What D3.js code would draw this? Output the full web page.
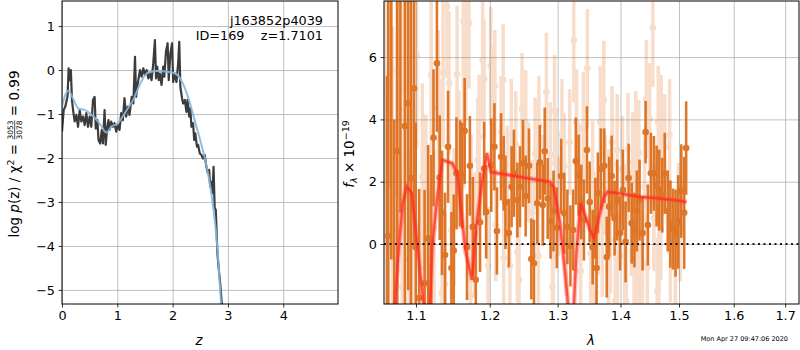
<!DOCTYPE html>
<html>
<head>
<meta charset="utf-8">
<script src="https://cdn.jsdelivr.net/npm/d3@7"></script>
<style>
body { margin: 0; background: #fff; }
svg { display: block; font-family: "DejaVu Sans", sans-serif; }
</style>
</head>
<body>
<div id="chart"></div>
<script>
// p(z) curve (noisy) and smooth prior-ish fit
var pzZ = [0,0.03,0.06,0.1,0.12,0.14,0.16,0.18,0.2,0.23,0.26,0.29,0.32,0.35,0.38,0.41,0.44,0.47,0.5,0.53,0.56,0.59,0.61,0.64,0.66,0.69,0.72,0.74,0.77,0.79,0.82,0.84,0.86,0.89,0.92,0.95,0.98,1.01,1.04,1.07,1.1,1.13,1.16,1.19,1.22,1.26,1.29,1.32,1.34,1.36,1.38,1.41,1.44,1.47,1.5,1.53,1.56,1.59,1.62,1.65,1.68,1.7,1.72,1.75,1.77,1.8,1.83,1.85,1.88,1.91,1.93,1.96,1.99,2.01,2.04,2.07,2.1,2.12,2.14,2.17,2.19,2.22,2.25,2.27,2.3,2.32,2.34,2.37,2.39,2.41,2.44,2.46,2.49,2.52,2.55,2.58,2.61,2.64,2.66,2.68,2.7,2.72,2.74,2.76,2.78,2.81,2.83,2.86,2.89,2.93];
var pzLog = [-1.40,-0.91,-0.83,-0.60,0.04,-0.23,0.0,-0.68,-0.91,-1.17,-1.02,-1.29,-0.91,-1.17,-1.06,-1.25,-0.98,-1.29,-1.06,-1.29,-0.68,-0.61,-1.33,-1.14,-1.59,-1.67,-1.36,-1.67,-0.91,-1.70,-1.29,-1.14,-1.36,-1.17,-1.29,-1.21,-1.40,-1.25,-1.36,-0.98,-1.14,-0.64,-1.06,-0.83,-1.02,-0.61,-0.76,0.30,-0.61,-0.38,-0.23,0.0,-0.15,0.04,-0.11,0.0,-0.19,-0.08,-0.23,0.15,0.68,-0.19,0.08,-0.23,-0.08,-0.34,0.08,-0.15,0.42,0.61,-0.23,0.38,0.61,-0.27,-0.08,-0.27,0.15,0.64,-0.38,-0.64,-0.76,-0.68,-0.95,-0.68,-1.06,-0.87,-1.29,-1.21,-1.59,-1.44,-1.74,-1.70,-1.89,-1.93,-2.01,-1.93,-2.20,-2.35,-2.27,-2.65,-2.54,-2.80,-2.20,-3.14,-3.18,-4.17,-4.47,-4.85,-5.32,-5.6];
var fitZ = [0,0.05,0.12,0.2,0.3,0.4,0.5,0.6,0.7,0.8,0.9,1.0,1.1,1.2,1.3,1.4,1.5,1.6,1.7,1.8,1.9,2.0,2.1,2.2,2.3,2.4,2.5,2.6,2.7,2.8,2.88];
var fitLog = [-0.83,-0.60,-0.47,-0.65,-0.88,-0.90,-0.98,-1.10,-1.25,-1.42,-1.28,-1.22,-1.05,-0.85,-0.65,-0.35,-0.12,-0.04,-0.02,-0.02,-0.04,-0.06,-0.13,-0.35,-0.70,-1.15,-1.60,-2.10,-2.80,-3.90,-5.40];

// spectrum: [lambda, flux, err]
var specMain = [
[1.0630,-2.6,8],[1.0647,0.26,8],[1.0685,8.5,9],[1.0722,-3.0,7],[1.0760,2.98,8],[1.0800,9.0,8],
[1.0858,3.79,7],[1.0900,4.52,6],[1.0935,2.12,6],[1.0974,5.0,5],[1.0996,-0.1,4],[1.1041,-1.73,3.5],
[1.1112,-1.26,3],[1.1159,0.18,3],[1.1199,0.07,2.8],[1.1230,3.41,2.2],[1.1275,5.8,2.2],[1.1312,2.13,2],
[1.1343,1.0,2],[1.1383,-0.35,2],[1.1424,3.12,1.8],[1.1470,-0.77,1.8],[1.1501,-0.21,1.8],[1.1538,2.27,1.8],
[1.1587,2.27,1.7],[1.1615,2.2,1.7],[1.1650,3.63,1.7],[1.1682,-0.1,1.7],[1.1722,2.51,1.6],[1.1763,0.55,1.6],
[1.1804,-1.15,1.6],[1.1863,0.7,1.6],[1.1921,2.42,1.5],[1.1949,1.03,1.5],[1.2022,2.53,1.5],
[1.2066,3.12,1.4],[1.2102,0.42,1.4],[1.2161,2.8,1.4],[1.2199,2.27,1.2],[1.2224,1.34,1.5],[1.2273,0.35,1.1],
[1.2313,1.84,1.3],[1.2347,2.27,1.4],[1.2397,1.41,1.2],[1.2435,1.84,1.3],[1.2479,2.59,1.4],[1.2519,1.54,1.3],
[1.2568,2.51,1.2],[1.2603,-0.48,1.3],[1.2642,-0.62,1.4],[1.2692,1.31,1.3],[1.2730,2.62,1.2],[1.2774,1.25,1.3],
[1.2804,2.98,1.4],[1.2848,1.46,1.3],[1.2892,0.73,1.2],[1.2937,1.06,1.3],[1.2987,0.52,1.3],[1.3054,2.18,1.2],
[1.3102,0.99,1.3],[1.3150,0.55,1.2],[1.3197,-0.06,1.3],[1.3240,0.45,1.3],[1.3282,2.66,1.4],[1.3325,2.21,1.3],
[1.3368,1.35,1.2],[1.3409,0.77,1.3],[1.3457,3.02,1.4],[1.3500,1.35,1.3],[1.3548,-0.1,1.2],[1.3591,0.83,1.3],
[1.3610,-0.77,1.3],[1.3632,1.64,1.3],[1.3680,2.41,1.3],[1.3734,2.51,1.2],[1.3775,-0.42,1.3],[1.3814,1.2,1.6],
[1.3855,2.18,1.3],[1.3903,0.83,1.2],[1.3946,1.41,1.3],[1.3994,0.35,1.2],[1.4039,1.73,1.3],[1.4084,0.07,1.3],
[1.4135,2.12,1.1],[1.4186,0.67,1.3],[1.4232,0.45,1.2],[1.4272,1.06,1.3],[1.4318,1.41,1.3],[1.4369,0.35,1.2],
[1.4421,3.59,1.0],[1.4460,0.61,1.3],[1.4511,2.27,1.3],[1.4562,2.27,1.2],[1.4609,1.86,1.3],[1.4655,1.73,1.3],
[1.4706,1.57,1.2],[1.4750,2.27,1.3],[1.4802,1.06,1.3],[1.4848,0.64,1.4],[1.4894,0.48,1.3],[1.4939,0.35,1.4],
[1.4985,0.71,1.5],[1.5041,1.70,1.5],[1.5092,1.0,1.8],[1.5127,3.08,1.5]
];
var specFaint = [
[1.0620,5.0,5],[1.0660,6.8,5],[1.0700,2.0,5],[1.0754,5.55,4],[1.0790,4.3,4],[1.0823,-1.37,4],
[1.0845,4.94,3.5],[1.0871,5.2,3.5],[1.0910,-0.5,3.5],[1.0950,1.4,3.5],[1.1009,6.06,3],[1.1083,2.15,3],
[1.1128,1.35,2.8],[1.1165,-1.0,2.8],[1.1199,5.42,2.5],[1.1237,0.5,2.5],[1.1295,4.36,2.5],[1.1320,2.9,2.4],
[1.1343,-1.57,2.4],[1.1357,5.5,2.4],[1.1383,-1.28,2.3],[1.1410,7.63,2.3],[1.1437,5.17,2.3],[1.1470,0.45,2.2],
[1.1505,0.87,2.2],[1.1546,5.45,2.2],[1.1569,2.7,2.2],[1.1633,7.15,2.1],[1.1637,3.88,2.1],[1.1668,6.06,2.1],
[1.1709,7.09,2.1],[1.1732,-1.67,2.0],[1.1741,1.51,2.0],[1.1790,0.3,2.0],[1.1832,2.7,2.0],[1.1851,3.43,2.0],
[1.1900,5.9,2.0],[1.1921,5.3,1.9],[1.1976,-0.7,1.9],[1.2013,5.71,1.9],[1.2035,4.49,1.9],[1.2072,5.07,1.8],
[1.2085,0.61,1.8],[1.2161,3.59,1.8],[1.2191,5.26,1.8],[1.2199,-0.45,1.8],[1.2250,2.0,1.8],[1.2288,-0.71,1.8],
[1.2309,3.5,1.8],[1.2372,3.21,1.7],[1.2397,-0.26,1.6],[1.2421,-1.15,1.7],[1.2465,4.33,1.8],[1.2519,3.88,1.7],
[1.2560,2.3,1.6],[1.2620,1.0,1.7],[1.2660,2.9,1.8],[1.2707,-0.38,1.7],[1.2715,3.8,1.6],[1.2780,1.8,1.7],
[1.2829,4.88,1.9],[1.2887,2.86,1.7],[1.2922,-1.38,1.6],[1.2928,-0.42,1.7],[1.2952,4.27,1.8],[1.2966,2.6,1.7],
[1.3010,1.2,1.6],[1.3066,3.5,1.8],[1.3102,2.5,1.7],[1.3134,-0.06,1.6],[1.3186,3.27,1.7],[1.3250,6.54,2.0],
[1.3293,3.91,1.7],[1.3340,2.27,1.6],[1.3357,-0.87,1.7],[1.3400,3.72,1.8],[1.3463,5.64,1.9],[1.3516,-0.3,1.6],
[1.3548,2.25,1.7],[1.3568,-0.83,1.6],[1.3591,-1.57,1.7],[1.3638,0.6,1.6],[1.3670,3.91,1.8],[1.3701,0.0,1.7],
[1.3727,4.62,1.9],[1.3749,1.89,1.6],[1.3806,1.35,1.7],[1.3808,-0.83,1.6],[1.3833,0.13,1.7],[1.3861,3.27,1.8],
[1.3870,2.55,1.6],[1.3914,-1.83,1.7],[1.3946,3.02,1.8],[1.3951,-0.62,1.6],[1.4032,2.41,1.7],[1.4067,-0.38,1.6],
[1.4091,0.87,1.7],[1.4095,-1.83,1.6],[1.4125,3.05,1.8],[1.4181,0.67,1.7],[1.4203,2.63,1.6],[1.4227,-0.89,1.7],
[1.4254,3.11,1.8],[1.4266,-1.51,1.6],[1.4288,-0.73,1.7],[1.4295,2.6,1.6],[1.4306,2.92,1.7],[1.4323,-1.19,1.6],
[1.4369,-0.64,1.7],[1.4403,1.84,1.6],[1.4433,4.65,1.9],[1.4450,-0.75,1.7],[1.4489,4.01,1.8],[1.4545,6.94,1.9],
[1.4562,0.83,1.7],[1.4620,-1.51,1.6],[1.4637,3.91,1.8],[1.4645,-0.35,1.6],[1.4648,0.13,1.7],[1.4682,0.45,1.6],
[1.4689,3.63,1.8],[1.4706,2.57,1.7],[1.4750,3.11,1.7],[1.4835,3.5,1.8],[1.4848,-0.26,1.6],[1.4935,-0.38,1.7],
[1.4990,1.0,1.6],[1.5020,0.5,1.7]
];
var modelLam = [1.0730,1.0790,1.0830,1.0880,1.0945,1.0990,1.1050,1.1098,1.1120,1.1175,1.1215,1.1290,1.1348,1.1480,1.1550,1.1660,1.1750,1.1810,1.1890,1.1960,1.2020,1.2887,1.2937,1.3037,1.3145,1.3180,1.3240,1.3290,1.3357,1.3437,1.3506,1.3570,1.3650,1.3730,1.3784,1.3943,1.4337,1.4622,1.4905,1.5135];
var modelFlux = [-1.93,0.2,1.3,1.84,1.63,0.6,-0.8,-1.9,-2.5,-2.5,0.0,1.7,2.7,2.59,2.27,-0.2,-1.15,0.55,1.95,2.92,2.31,1.99,1.84,0.67,-1.57,-2.5,-2.5,-0.29,1.31,0.87,0.45,0.19,0.87,1.51,1.67,1.64,1.51,1.47,1.41,1.35];

var zTicks = [0,1,2,3,4];
var logTicks = [-5,-4,-3,-2,-1,0,1];
var lamTicks = [1.1,1.2,1.3,1.4,1.5,1.6,1.7];
var fluxTicks = [0,2,4,6];

var svg = d3.select('#chart').append('svg')
    .attr('width', 800)
    .attr('height', 350);

var topY = 1, botY = 304;
var tickFont = '12.8px';

function styleAxis(g) {
  g.attr('font-family', null).attr('font-size', null);
  g.select('.domain').remove();
  g.selectAll('.tick line').attr('stroke', '#000').attr('stroke-width', 0.8);
  g.selectAll('text').attr('fill', '#000').style('font-size', tickFont);
}
function styleGrid(g) {
  g.select('.domain').remove();
  g.selectAll('.tick line').attr('stroke', '#b0b0b0').attr('stroke-width', 0.8);
}

// ---------- left panel : p(z)
var zx = d3.scaleLinear().domain([0, 4.99]).range([62, 338]);
var zy = d3.scaleLinear().domain([-5.32, 1.57]).range([botY, topY]);

svg.append('clipPath').attr('id', 'clipL')
  .append('rect').attr('x', 62).attr('y', topY).attr('width', 276).attr('height', botY - topY);

svg.append('g').attr('transform', 'translate(0,' + botY + ')')
  .call(d3.axisBottom(zx).tickValues(zTicks).tickSize(-(botY - topY)).tickFormat(''))
  .call(styleGrid);
svg.append('g').attr('transform', 'translate(62,0)')
  .call(d3.axisLeft(zy).tickValues(logTicks).tickSize(-276).tickFormat(''))
  .call(styleGrid);

var pzLine = d3.line().x(function(d, i) { return zx(pzZ[i]); }).y(function(d) { return zy(d); });
var fitLine = d3.line().curve(d3.curveMonotoneX).x(function(d, i) { return zx(fitZ[i]); }).y(function(d) { return zy(d); });

var left = svg.append('g').attr('clip-path', 'url(#clipL)');
left.append('path').datum(pzLog)
  .attr('d', pzLine)
  .attr('fill', 'none')
  .attr('stroke', '#3c3c3c')
  .attr('stroke-width', 2.2)
  .attr('stroke-linejoin', 'round');
left.append('path').datum(fitLog)
  .attr('d', fitLine)
  .attr('fill', 'none')
  .attr('stroke', '#86b6db')
  .attr('stroke-opacity', 0.9)
  .attr('stroke-width', 2);

svg.append('g').attr('transform', 'translate(0,' + botY + ')')
  .call(d3.axisBottom(zx).tickValues(zTicks).tickSize(3.5).tickPadding(3.5).tickFormat(d3.format('d')))
  .call(styleAxis);
svg.append('g').attr('transform', 'translate(62,0)')
  .call(d3.axisLeft(zy).tickValues(logTicks).tickSize(3.5).tickPadding(3.5).tickFormat(d3.format('d')))
  .call(styleAxis);
svg.append('rect').attr('x', 62).attr('y', topY).attr('width', 276).attr('height', botY - topY)
  .attr('fill', 'none').attr('stroke', '#000').attr('stroke-width', 1);

svg.append('text').attr('x', 323).attr('y', 25).attr('text-anchor', 'end')
  .style('font-size', '12.8px').text('j163852p4039');
svg.append('text').attr('x', 323).attr('y', 39.5).attr('text-anchor', 'end')
  .style('font-size', '12.8px').text('ID=169\u00a0\u00a0\u00a0\u00a0z=1.7101');

svg.append('text').attr('x', 199).attr('y', 345).attr('text-anchor', 'middle')
  .style('font-size', '13.5px').style('font-style', 'italic').text('z');

// y label with a stacked fraction
var yl = svg.append('g').attr('transform', 'translate(19,154) rotate(-90)');
var ylIn = yl.append('g');
var p1 = ylIn.append('text').style('font-size', '13.5px');
p1.append('tspan').text('log\u00a0');
p1.append('tspan').style('font-style', 'italic').text('p');
p1.append('tspan').text('(z)\u00a0/\u00a0χ');
p1.append('tspan').style('font-size', '9.5px').attr('dy', -5).text('2');
p1.append('tspan').attr('dy', 5).text('\u00a0=\u00a0');
var w1 = p1.node().getComputedTextLength();
var num = ylIn.append('text').attr('x', w1).attr('y', -6).style('font-size', '7.5px').text('3053');
var den = ylIn.append('text').attr('x', w1).attr('y', 2.5).style('font-size', '7.5px').text('3078');
var fw = Math.max(num.node().getComputedTextLength(), den.node().getComputedTextLength());
ylIn.append('line').attr('x1', w1).attr('x2', w1 + fw).attr('y1', -4.3).attr('y2', -4.3)
  .attr('stroke', '#000').attr('stroke-width', 0.7);
var p3 = ylIn.append('text').attr('x', w1 + fw).style('font-size', '13.5px').text('\u00a0=\u00a00.99');
var wTot = w1 + fw + p3.node().getComputedTextLength();
ylIn.attr('transform', 'translate(' + (-wTot / 2) + ',0)');

// ---------- right panel : spectrum
var lx = d3.scaleLog().domain([1.0593, 1.728]).range([384, 799]);
var fy = d3.scaleLinear().domain([-1.925, 7.80]).range([botY, topY]);

svg.append('clipPath').attr('id', 'clipR')
  .append('rect').attr('x', 384).attr('y', topY).attr('width', 415).attr('height', botY - topY);

svg.append('g').attr('transform', 'translate(0,' + botY + ')')
  .call(d3.axisBottom(lx).tickValues(lamTicks).tickSize(-(botY - topY)).tickFormat(''))
  .call(styleGrid);
svg.append('g').attr('transform', 'translate(384,0)')
  .call(d3.axisLeft(fy).tickValues(fluxTicks).tickSize(-415).tickFormat(''))
  .call(styleGrid);

var right = svg.append('g').attr('clip-path', 'url(#clipR)');
var orange = '#dc6914';

var faint = right.append('g').attr('opacity', 0.22);
faint.selectAll('line').data(specFaint).enter().append('line')
  .attr('x1', function(d) { return lx(d[0]); })
  .attr('x2', function(d) { return lx(d[0]); })
  .attr('y1', function(d) { return fy(d[1] - d[2]); })
  .attr('y2', function(d) { return fy(d[1] + d[2]); })
  .attr('stroke', orange).attr('stroke-width', 3.5);
faint.selectAll('circle').data(specFaint).enter().append('circle')
  .attr('cx', function(d) { return lx(d[0]); })
  .attr('cy', function(d) { return fy(d[1]); })
  .attr('r', 3.3).attr('fill', orange);

var main = right.append('g').attr('opacity', 0.9);
main.selectAll('line').data(specMain).enter().append('line')
  .attr('x1', function(d) { return lx(d[0]); })
  .attr('x2', function(d) { return lx(d[0]); })
  .attr('y1', function(d) { return fy(d[1] - d[2]); })
  .attr('y2', function(d) { return fy(d[1] + d[2]); })
  .attr('stroke', orange).attr('stroke-width', 2.6);
main.selectAll('circle').data(specMain).enter().append('circle')
  .attr('cx', function(d) { return lx(d[0]); })
  .attr('cy', function(d) { return fy(d[1]); })
  .attr('r', 3.3).attr('fill', orange);

var modelLine = d3.line().x(function(d, i) { return lx(modelLam[i]); }).y(function(d) { return fy(d); });
right.append('path').datum(modelFlux)
  .attr('d', modelLine)
  .attr('fill', 'none')
  .attr('stroke', '#ff4a3a')
  .attr('stroke-opacity', 0.35)
  .attr('stroke-width', 5);
right.append('path').datum(modelFlux)
  .attr('d', modelLine)
  .attr('fill', 'none')
  .attr('stroke', '#ff2a1a')
  .attr('stroke-opacity', 0.7)
  .attr('stroke-width', 2.5);

right.append('line')
  .attr('x1', 384).attr('x2', 799).attr('y1', fy(0)).attr('y2', fy(0))
  .attr('stroke', '#1a1a1a').attr('stroke-width', 2).attr('stroke-dasharray', '2,3.5');

svg.append('g').attr('transform', 'translate(0,' + botY + ')')
  .call(d3.axisBottom(lx).tickValues(lamTicks).tickSize(3.5).tickPadding(3.5).tickFormat(d3.format('.1f')))
  .call(styleAxis);
svg.append('g').attr('transform', 'translate(384,0)')
  .call(d3.axisLeft(fy).tickValues(fluxTicks).tickSize(3.5).tickPadding(3.5).tickFormat(d3.format('d')))
  .call(styleAxis);
svg.append('rect').attr('x', 384).attr('y', topY).attr('width', 415).attr('height', botY - topY)
  .attr('fill', 'none').attr('stroke', '#000').attr('stroke-width', 1);

svg.append('text').attr('x', 591).attr('y', 345).attr('text-anchor', 'middle')
  .style('font-size', '13.5px').style('font-style', 'italic').text('λ');

var fl = svg.append('text').attr('transform', 'translate(354,154) rotate(-90)')
  .attr('text-anchor', 'middle').style('font-size', '13.5px');
fl.append('tspan').style('font-style', 'italic').text('f');
fl.append('tspan').style('font-style', 'italic').style('font-size', '9.5px').attr('dy', 3).text('λ');
fl.append('tspan').attr('dy', -3).text('\u00a0×\u00a010');
fl.append('tspan').style('font-size', '9.5px').attr('dy', -5).text('−19');

svg.append('text').attr('x', 788).attr('y', 341).attr('text-anchor', 'end')
  .style('font-size', '6.5px').text('Mon Apr 27 09:47:06 2020');
</script>
</body>
</html>
